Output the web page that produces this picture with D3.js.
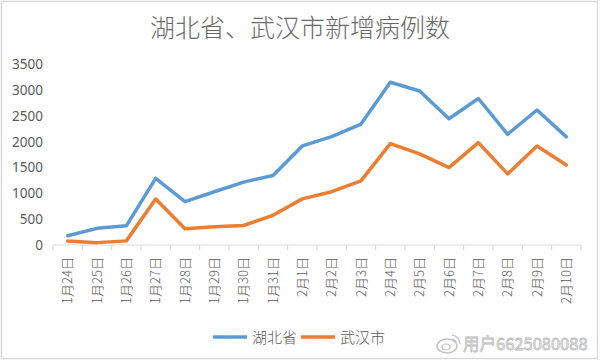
<!DOCTYPE html>
<html>
<head>
<meta charset="utf-8">
<script src="https://cdn.jsdelivr.net/npm/d3@7"></script>
<style>
  body { margin: 0; background: #fff; }
  svg { display: block; font-family: "Noto Sans CJK SC", "Noto Sans", sans-serif; }
</style>
</head>
<body>
<svg id="chart" width="600" height="361"></svg>
<script>
const dates = ['1月24日', '1月25日', '1月26日', '1月27日', '1月28日', '1月29日', '1月30日', '1月31日',
    '2月1日', '2月2日', '2月3日', '2月4日', '2月5日', '2月6日', '2月7日', '2月8日', '2月9日', '2月10日'];
const hubei = [180, 323, 371, 1291, 840, 1032, 1220, 1347, 1921, 2103, 2345, 3156, 2987, 2447, 2841, 2147, 2618, 2097];
const wuhan = [77, 46, 80, 892, 315, 356, 378, 576, 894, 1033, 1242, 1967, 1766, 1501, 1985, 1379, 1921, 1552];
const yTicks = [0, 500, 1000, 1500, 2000, 2500, 3000, 3500];
const seriesNames = ['湖北省', '武汉市'];
const colors = ['#5b9bd5', '#ed7d31'];

const svg = d3.select('#chart');
const textColor = '#595959';

// outer frame
svg.append('rect')
    .attr('x', 1.5).attr('y', 1.5)
    .attr('width', 596).attr('height', 357)
    .attr('fill', '#fff')
    .attr('stroke', '#d9d9d9')
    .attr('stroke-width', 1.5);

svg.append('text')
    .attr('x', 300)
    .attr('y', 37)
    .attr('text-anchor', 'middle')
    .attr('font-size', 25)
    .attr('font-weight', 300)
    .attr('fill', '#6a6a6a')
    .text('湖北省、武汉市新增病例数');

const x = d3.scaleBand()
    .domain(dates)
    .range([53, 581]);

const y = d3.scaleLinear()
    .domain([0, 3500])
    .range([245, 64.5]);

// y axis labels, no line
const yAxis = svg.append('g')
    .attr('transform', 'translate(53,0)')
    .call(d3.axisLeft(y).tickValues(yTicks).tickFormat(d3.format('d')).tickSize(0).tickPadding(10));
yAxis.select('.domain').remove();
yAxis.selectAll('text')
    .attr('font-size', 13.5)
    .attr('fill', textColor)
    .attr('font-family', '"Noto Sans", sans-serif');

// x axis with ticks between categories
const xAxis = svg.append('g')
    .attr('transform', `translate(0,${y(0)})`);
xAxis.append('line')
    .attr('x1', x.range()[0]).attr('x2', x.range()[1])
    .attr('stroke', '#d9d9d9').attr('stroke-width', 1.2);
xAxis.selectAll('.tk')
    .data(dates.concat(['end']))
    .join('line')
    .attr('class', 'tk')
    .attr('x1', (d, i) => x.range()[0] + i * x.step())
    .attr('x2', (d, i) => x.range()[0] + i * x.step())
    .attr('y1', 0).attr('y2', 5)
    .attr('stroke', '#d9d9d9').attr('stroke-width', 1.2);
xAxis.selectAll('.lbl')
    .data(dates)
    .join('text')
    .attr('class', 'lbl')
    .attr('transform', d => `translate(${x(d) + x.bandwidth() / 2 + 4.5},12) rotate(-90)`)
    .attr('text-anchor', 'end')
    .attr('font-size', 13)
    .attr('font-weight', 300)
    .attr('fill', textColor)
    .text(d => d);

const line = d3.line()
    .x((d, i) => x(dates[i]) + x.bandwidth() / 2)
    .y(d => y(d));

[hubei, wuhan].forEach((vals, k) => {
    svg.append('path')
        .datum(vals)
        .attr('fill', 'none')
        .attr('stroke', colors[k])
        .attr('stroke-width', 3.5)
        .attr('stroke-linejoin', 'round')
        .attr('stroke-linecap', 'round')
        .attr('d', line);
});

// legend
const legend = svg.append('g').attr('transform', 'translate(213,337)');
const legendX = [0, 88];
seriesNames.forEach((name, k) => {
    const g = legend.append('g').attr('transform', `translate(${legendX[k]},0)`);
    g.append('line')
        .attr('x1', 0).attr('x2', 34)
        .attr('stroke', colors[k]).attr('stroke-width', 3.5);
    g.append('text')
        .attr('x', 39).attr('y', 5.5)
        .attr('font-size', 15)
        .attr('font-weight', 300)
        .attr('fill', textColor)
        .text(name);
});

// watermark
const wm = svg.append('g').attr('transform', 'translate(447,344)');
wm.append('ellipse')
    .attr('cx', 0).attr('cy', 2).attr('rx', 10).attr('ry', 7)
    .attr('fill', 'none').attr('stroke', '#c4c4c4').attr('stroke-width', 1.5);
wm.append('ellipse')
    .attr('cx', -1).attr('cy', 3).attr('rx', 4).attr('ry', 3)
    .attr('fill', 'none').attr('stroke', '#c4c4c4').attr('stroke-width', 1.2);
wm.append('path')
    .attr('d', 'M5,-9 A9,9 0 0 1 13,0 M5,-5 A5,5 0 0 1 9,-1')
    .attr('fill', 'none').attr('stroke', '#c4c4c4').attr('stroke-width', 1.3);
wm.append('text')
    .attr('x', 16).attr('y', 6)
    .attr('font-size', 16.5)
    .attr('fill', '#f2f2f2')
    .attr('stroke', '#bdbdbd')
    .attr('stroke-width', 0.8)
    .text('用户6625080088');
</script>
</body>
</html>
